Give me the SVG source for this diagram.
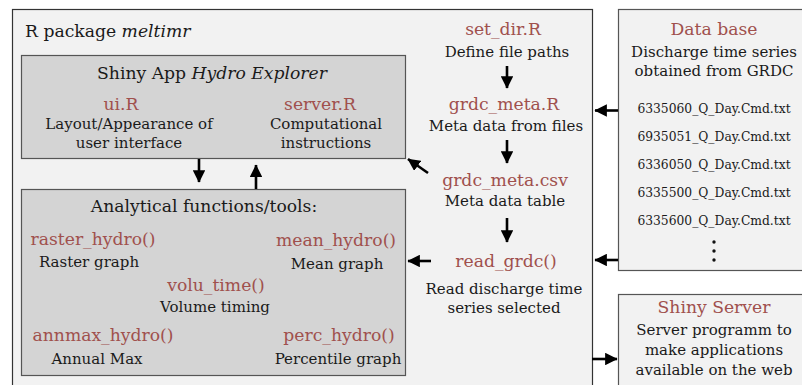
<svg xmlns="http://www.w3.org/2000/svg" width="802" height="385" viewBox="0 0 802 385">
  <defs>
    <marker id="head" viewBox="0 0 10 10" markerUnits="userSpaceOnUse" markerWidth="12.5" markerHeight="12.5" refX="9.5" refY="5" orient="auto">
      <path d="M0,0 L10,5 L0,10 z" fill="#000"/>
    </marker>
  </defs>
  <style>
    text { font-family: "DejaVu Serif", "Liberation Serif", serif; fill: #1a1a1a; text-anchor: middle; }
    .title { font-size: 17.2px; }
    .fn { font-size: 17.2px; fill: #a0504d; }
    .desc { font-size: 15px; }
    .file { font-size: 12.3px; }
    .outer { fill: #f2f2f2; stroke: #333; stroke-width: 1.2; }
    .inner { fill: #d4d4d4; stroke: #555; stroke-width: 1.2; }
    .side { fill: #f2f2f2; stroke: #555; stroke-width: 1.2; }
    .arrow { stroke: #000; stroke-width: 2.6; fill: none; marker-end: url(#head); }
  </style>

  <!-- R package container -->
  <g id="package">
    <rect class="outer" x="12.5" y="9.5" width="580" height="390"/>
    <text class="title" x="25" y="37" style="text-anchor:start">R package <tspan font-style="italic">meltimr</tspan></text>
  </g>

  <!-- Shiny app -->
  <g id="shiny-app">
    <rect class="inner" x="21.5" y="55.5" width="384" height="103"/>
    <text class="title" x="212" y="79">Shiny App <tspan font-style="italic">Hydro Explorer</tspan></text>
    <text class="fn" x="121" y="110">ui.R</text>
    <text class="desc" x="129" y="129">Layout/Appearance of</text>
    <text class="desc" x="129" y="148">user interface</text>
    <text class="fn" x="320" y="110">server.R</text>
    <text class="desc" x="326" y="129">Computational</text>
    <text class="desc" x="326" y="148">instructions</text>
  </g>

  <!-- Analytical functions -->
  <g id="analytical">
    <rect class="inner" x="21.5" y="189.5" width="384" height="186"/>
    <text class="title" x="204" y="212">Analytical functions/tools:</text>
    <text class="fn" x="93" y="245">raster_hydro()</text>
    <text class="desc" x="89" y="267">Raster graph</text>
    <text class="fn" x="336" y="246">mean_hydro()</text>
    <text class="desc" x="337" y="269">Mean graph</text>
    <text class="fn" x="216" y="291">volu_time()</text>
    <text class="desc" x="215" y="312">Volume timing</text>
    <text class="fn" x="103" y="341">annmax_hydro()</text>
    <text class="desc" x="97" y="364">Annual Max</text>
    <text class="fn" x="339" y="341">perc_hydro()</text>
    <text class="desc" x="338" y="364">Percentile graph</text>
  </g>

  <!-- Data preparation chain -->
  <g id="set-dir">
    <text class="fn" x="503" y="35">set_dir.R</text>
    <text class="desc" x="507" y="57">Define file paths</text>
  </g>
  <g id="grdc-meta-r">
    <text class="fn" x="504" y="110">grdc_meta.R</text>
    <text class="desc" x="506" y="131">Meta data from files</text>
  </g>
  <g id="grdc-meta-csv">
    <text class="fn" x="505" y="186">grdc_meta.csv</text>
    <text class="desc" x="505" y="206">Meta data table</text>
  </g>
  <g id="read-grdc">
    <text class="fn" x="506" y="267">read_grdc()</text>
    <text class="desc" x="504" y="294">Read discharge time</text>
    <text class="desc" x="504" y="313">series selected</text>
  </g>

  <!-- Data base -->
  <g id="database">
    <rect class="side" x="618.5" y="9.5" width="200" height="261"/>
    <text class="fn" x="714" y="35">Data base</text>
    <text class="desc" x="714" y="57">Discharge time series</text>
    <text class="desc" x="714" y="76">obtained from GRDC</text>
    <text class="file" x="714" y="113">6335060_Q_Day.Cmd.txt</text>
    <text class="file" x="714" y="141">6935051_Q_Day.Cmd.txt</text>
    <text class="file" x="714" y="169">6336050_Q_Day.Cmd.txt</text>
    <text class="file" x="714" y="197">6335500_Q_Day.Cmd.txt</text>
    <text class="file" x="714" y="225">6335600_Q_Day.Cmd.txt</text>
    <circle cx="714" cy="242" r="1.7" fill="#111"/>
    <circle cx="714" cy="251" r="1.7" fill="#111"/>
    <circle cx="714" cy="260" r="1.7" fill="#111"/>
  </g>

  <!-- Shiny Server -->
  <g id="shiny-server">
    <rect class="side" x="618.5" y="294.5" width="200" height="110"/>
    <text class="fn" x="714" y="313">Shiny Server</text>
    <text class="desc" x="714" y="335">Server programm to</text>
    <text class="desc" x="714" y="355">make applications</text>
    <text class="desc" x="714" y="375">available on the web</text>
  </g>

  <!-- Connectors -->
  <g id="connectors">
    <line class="arrow" x1="199" y1="159" x2="199" y2="182"/>
    <line class="arrow" x1="256" y1="189" x2="256" y2="165"/>
    <line class="arrow" x1="507" y1="66" x2="507" y2="88"/>
    <line class="arrow" x1="507" y1="140" x2="507" y2="163"/>
    <line class="arrow" x1="507" y1="218" x2="507" y2="242"/>
    <line class="arrow" x1="428" y1="173" x2="408" y2="159"/>
    <line class="arrow" x1="431" y1="261" x2="408" y2="261"/>
    <line class="arrow" x1="618" y1="110.5" x2="595" y2="110.5"/>
    <line class="arrow" x1="618" y1="260" x2="595" y2="260"/>
    <line class="arrow" x1="592" y1="359" x2="617" y2="359"/>
  </g>
</svg>
